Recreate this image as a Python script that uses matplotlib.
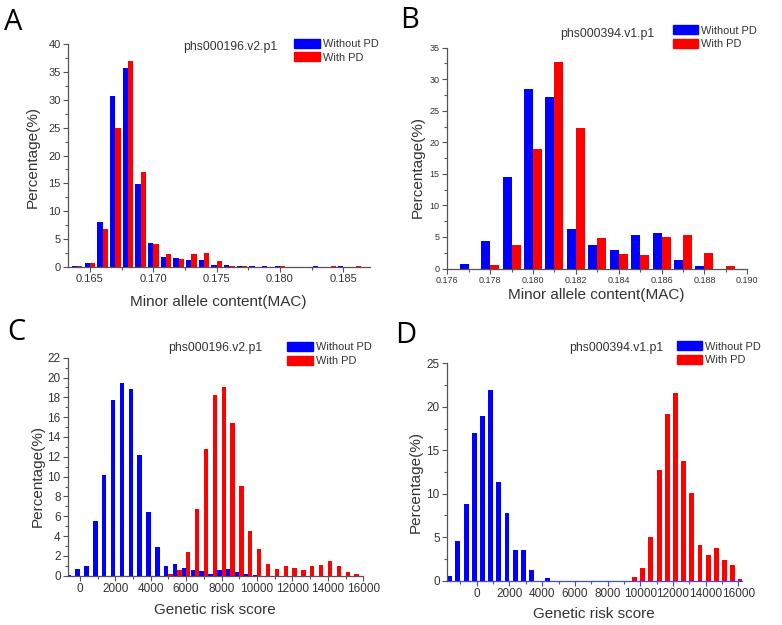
import matplotlib
matplotlib.use('Agg')
import matplotlib.pyplot as plt
from matplotlib.patches import Patch
from matplotlib.ticker import MultipleLocator

plt.rcParams['font.family'] = ['Liberation Sans', 'DejaVu Sans']

BLUE = '#0000ff'
RED = '#ff0000'
AXIS_COLOR = '#555555'
TEXT_COLOR = '#333333'

# Panel A: minor allele content, phs000196.v2.p1
a_bins = [0.164, 0.165, 0.166, 0.167, 0.168, 0.169, 0.170, 0.171, 0.172, 0.173,
          0.174, 0.175, 0.176, 0.177, 0.178, 0.179, 0.180, 0.181, 0.182, 0.183,
          0.184, 0.185, 0.186]
a_without = [0.05, 0.7, 8.0, 30.7, 35.8, 14.9, 4.3, 1.7, 1.5, 1.15,
             1.15, 0.35, 0.25, 0.05, 0.05, 0.05, 0.05, 0.03, 0.03, 0.05,
             0.03, 0.05, 0.03]
a_with = [0.15, 0.6, 6.7, 25.0, 37.0, 17.1, 4.15, 2.2, 1.45, 2.3,
          2.4, 1.1, 0.12, 0.05, 0.03, 0.03, 0.12, 0.03, 0.03, 0.03,
          0.05, 0.03, 0.05]

# Panel B: minor allele content, phs000394.v1.p1
b_bins = [0.177, 0.178, 0.179, 0.180, 0.181, 0.182, 0.183, 0.184, 0.185,
          0.186, 0.187, 0.188, 0.189]
b_without = [0.7, 4.3, 14.5, 28.5, 27.15, 6.2, 3.65, 3.0, 5.25, 5.6, 1.35, 0.35, 0.0]
b_with = [0.0, 0.5, 3.65, 18.95, 32.7, 22.25, 4.8, 2.35, 2.15, 4.95, 5.3, 2.5, 0.35]

# Panel C: genetic risk score, phs000196.v2.p1
c_bins = [-500, 0, 500, 1000, 1500, 2000, 2500, 3000, 3500, 4000, 4500,
          5000, 5500, 6000, 6500, 7000, 7500, 8000, 8500, 9000, 9500,
          10000, 10500, 11000, 11500, 12000, 12500, 13000, 13500, 14000,
          14500, 15000, 15500]
c_without = [0.05, 0.64, 1.0, 5.5, 10.2, 17.7, 19.4, 18.8, 12.15, 6.4, 2.85,
             1.0, 1.15, 0.75, 0.55, 0.47, 0.22, 0.54, 0.67, 0.4, 0.17,
             0.07, 0, 0, 0, 0, 0, 0, 0, 0,
             0, 0, 0]
c_with = [0, 0, 0, 0, 0, 0, 0, 0, 0, 0, 0,
          0.15, 0.55, 2.42, 6.73, 12.8, 18.2, 19.0, 15.4, 9.1, 4.52,
          2.69, 1.18, 0.67, 0.98, 0.79, 0.57, 0.99, 1.09, 1.45,
          1.02, 0.42, 0.15]

# Panel D: genetic risk score, phs000394.v1.p1
d_bins_without = [-1500, -1000, -500, 0, 500, 1000, 1500, 2000, 2500, 3000,
                  3500, 4000, 4500]
d_without = [0.58, 4.56, 8.78, 17.0, 18.9, 21.9, 11.4, 7.8, 3.55, 3.55,
             1.25, 0.0, 0.27]
d_bins_with = [9500, 10000, 10500, 11000, 11500, 12000, 12500, 13000, 13500,
               14000, 14500, 15000, 15500, 16000]
d_with = [0.46, 1.46, 5.06, 12.77, 19.17, 21.63, 13.77, 10.12, 4.06, 2.91,
          3.72, 2.42, 1.76, 0.15]

W, H = 782, 625


def px_rect(left, top, right, bottom):
    return [left / W, 1 - bottom / H, (right - left) / W, (bottom - top) / H]


def style_axes(ax, xmajor, xminor, ymajor, yminor, tick_size):
    for side in ['top', 'right']:
        ax.spines[side].set_visible(False)
    for side in ['left', 'bottom']:
        ax.spines[side].set_color(AXIS_COLOR)
        ax.spines[side].set_linewidth(0.9)
    ax.xaxis.set_major_locator(MultipleLocator(xmajor))
    ax.xaxis.set_minor_locator(MultipleLocator(xminor))
    ax.yaxis.set_major_locator(MultipleLocator(ymajor))
    ax.yaxis.set_minor_locator(MultipleLocator(yminor))
    ax.tick_params(which='major', direction='out', length=3.5, width=0.8,
                   color=AXIS_COLOR, labelcolor=TEXT_COLOR, labelsize=tick_size, pad=2)
    ax.tick_params(which='minor', direction='out', length=2, width=0.8, color=AXIS_COLOR)


def add_labels(ax, xlabel, xlab_pos, ylab_pos, size=11):
    ax.set_xlabel(xlabel, fontsize=size, color=TEXT_COLOR)
    ax.set_ylabel('Percentage(%)', fontsize=size, color=TEXT_COLOR)
    ax.xaxis.set_label_coords(*xlab_pos)
    ax.yaxis.set_label_coords(*ylab_pos)


def add_legend(fig, x, y):
    handles = [Patch(facecolor=BLUE, edgecolor=BLUE, label='Without PD'),
               Patch(facecolor=RED, edgecolor=RED, label='With PD')]
    leg = fig.legend(handles=handles, loc='upper left', bbox_to_anchor=(x / W, 1 - y / H),
                     frameon=False, fontsize=7.9, handlelength=2.35, handleheight=0.85,
                     handletextpad=0.25, labelspacing=0.32, borderpad=0, borderaxespad=0)
    for t in leg.get_texts():
        t.set_color(TEXT_COLOR)


def add_title(fig, text, x, y):
    fig.text(x / W, 1 - y / H, text, ha='center', va='center', fontsize=8.8, color=TEXT_COLOR)


def add_letter(fig, letter, x, y):
    fig.text(x / W, 1 - y / H, letter, ha='left', va='baseline', fontsize=21,
             family='Open Sans', color='black')


fig = plt.figure(figsize=(W / 100, H / 100), dpi=100)

# ---- A ----
ax = fig.add_axes(px_rect(68.3, 44.3, 370, 266.7))
wa = 0.00042
ax.bar([b - wa / 2 for b in a_bins], a_without, width=wa, color=BLUE, linewidth=0)
ax.bar([b + wa / 2 for b in a_bins], a_with, width=wa, color=RED, linewidth=0)
ax.set_xlim(0.1633, 0.1871)
ax.set_ylim(0, 40)
style_axes(ax, 0.005, 0.0025, 5, 2.5, 8)
ax.xaxis.set_major_formatter(plt.FormatStrFormatter('%.3f'))
add_labels(ax, 'Minor allele content(MAC)', (0.496, -0.128), (-0.094, 0.495))
add_title(fig, 'phs000196.v2.p1', 230, 46.7)
add_legend(fig, 294, 38.8)
add_letter(fig, 'A', 4, 30)

# ---- B ----
ax = fig.add_axes(px_rect(447.3, 47.7, 747.3, 268.5))
wb = 0.00042
ax.bar([b - wb / 2 for b in b_bins], b_without, width=wb, color=BLUE, linewidth=0)
ax.bar([b + wb / 2 for b in b_bins], b_with, width=wb, color=RED, linewidth=0)
ax.set_xlim(0.176, 0.190)
ax.set_ylim(0, 35)
style_axes(ax, 0.002, 0.001, 5, 2.5, 6.5)
ax.xaxis.set_major_formatter(plt.FormatStrFormatter('%.3f'))
add_labels(ax, 'Minor allele content(MAC)', (0.498, -0.088), (-0.074, 0.461))
add_title(fig, 'phs000394.v1.p1', 607, 33.8)
add_legend(fig, 672.7, 25.5)
add_letter(fig, 'B', 400, 28)

# ---- C ----
ax = fig.add_axes(px_rect(68.3, 357.7, 363.3, 575.7))
wc = 245
ax.bar([b - wc / 2 for b in c_bins], c_without, width=wc, color=BLUE, linewidth=0)
ax.bar([b + wc / 2 for b in c_bins], c_with, width=wc, color=RED, linewidth=0)
ax.set_xlim(-650, 16000)
ax.set_ylim(0, 22)
style_axes(ax, 2000, 1000, 2, 1, 8.5)
add_labels(ax, 'Genetic risk score', (0.497, -0.124), (-0.079, 0.459))
add_title(fig, 'phs000196.v2.p1', 215, 348.3)
add_legend(fig, 287.3, 342.1)
add_letter(fig, 'C', 7, 340)

# ---- D ----
ax = fig.add_axes(px_rect(447.3, 363.3, 741.7, 580.7))
wd = 300
ax.bar([b - wd / 2 for b in d_bins_without], d_without, width=wd, color=BLUE, linewidth=0)
ax.bar([b + wd / 2 for b in d_bins_with], d_with, width=wd, color=RED, linewidth=0)
ax.set_xlim(-1800, 16200)
ax.set_ylim(0, 25)
style_axes(ax, 2000, 1000, 5, 2.5, 8.5)
ax.spines['bottom'].set_color('#4444ff')
ax.tick_params(axis='x', which='both', color='#4444ff')
add_labels(ax, 'Genetic risk score', (0.498, -0.12), (-0.083, 0.455))
add_title(fig, 'phs000394.v1.p1', 616.3, 347.7)
add_legend(fig, 676.7, 341.5)
add_letter(fig, 'D', 395, 343)

fig.savefig('out.png', dpi=100)
